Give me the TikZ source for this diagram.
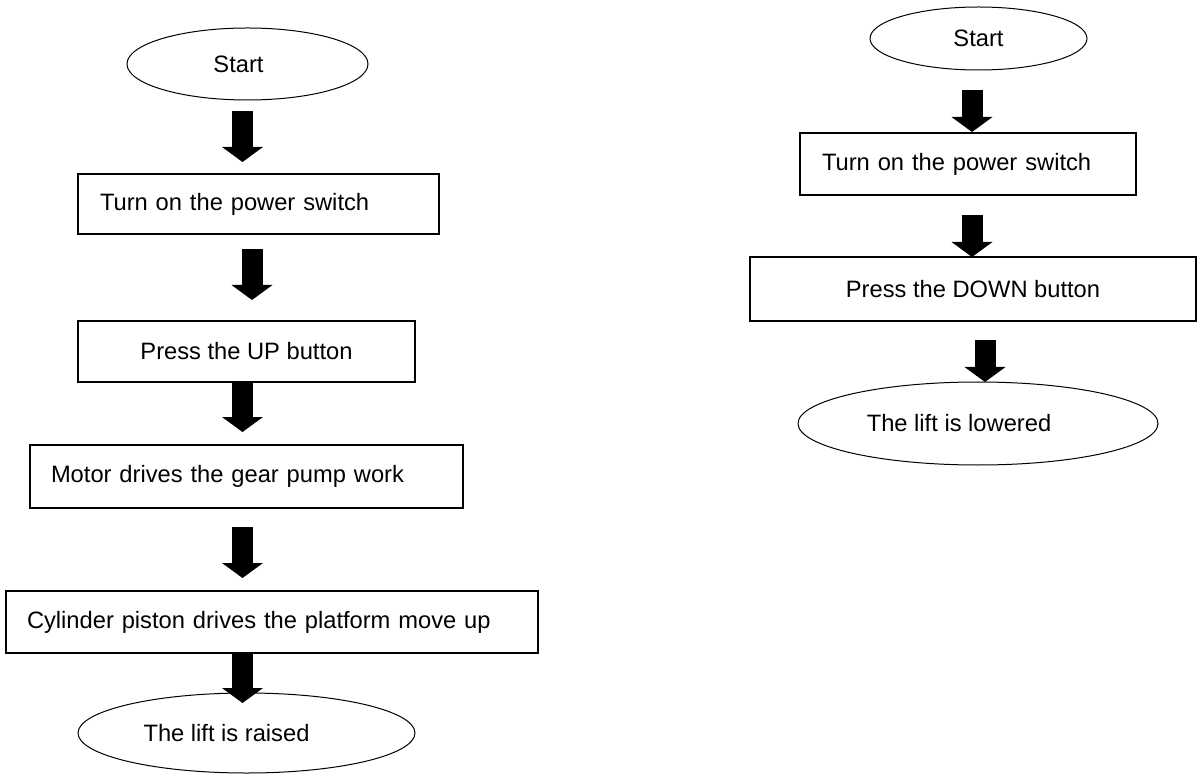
\documentclass[tikz,border=0pt]{standalone}
\usepackage{fontspec}
\setmainfont{Liberation Sans}
\usetikzlibrary{shapes.geometric,arrows.meta}
\begin{document}
\begin{tikzpicture}[x=0.5pt,y=-0.5pt,
  every node/.style={font=\fontsize{11.85}{14}\selectfont},
  startend/.style={ellipse,draw,line width=0.5pt,inner sep=0pt},
  stepbox/.style={rectangle,draw,line width=0.75pt,inner ysep=0pt},
  lbox/.style={stepbox,align=left},
  bigarrow/.style={line width=10.5pt,-{Triangle[length=7.5pt,width=20.5pt,line width=0pt]}}]
\useasboundingbox (0,0) rectangle (1197,774);
% ---- left flow ----
\node[startend,minimum width=120.5pt,minimum height=36pt] (s1) at (247.5,64) {Start\hspace*{9pt}};
\node[lbox,minimum height=30pt,inner xsep=11pt,text width=158.5pt] (b1) at (258.5,204) {Turn on the power switch};
\node[stepbox,minimum width=168.5pt,minimum height=30.5pt] (b2) at (246.5,351.5) {Press the UP button};
\node[lbox,minimum height=31.5pt,inner xsep=10.5pt,text width=195.5pt] (b3) at (246.5,476.5) {Motor drives the gear pump work};
\node[lbox,minimum height=31pt,inner xsep=10.5pt,text width=245pt] (b4) at (272,622) {Cylinder piston drives the platform move up};
\node[startend,minimum width=168.5pt,minimum height=40pt] (e1) at (246.5,733) {The lift is raised\hspace*{20pt}};
\coordinate (a1s) at (242.5,111); \coordinate (a1e) at (242.5,162);
\coordinate (a2s) at (252,249);   \coordinate (a2e) at (252,300);
\coordinate (a3s) at (242.5,382); \coordinate (a3e) at (242.5,432);
\coordinate (a4s) at (242.5,527); \coordinate (a4e) at (242.5,578);
\coordinate (a5s) at (242.5,653); \coordinate (a5e) at (242.5,703);
\draw[bigarrow] (a1s) -- (a1e);
\draw[bigarrow] (a2s) -- (a2e);
\draw[bigarrow] (a3s) -- (a3e);
\draw[bigarrow] (a4s) -- (a4e);
\draw[bigarrow] (a5s) -- (a5e);
% ---- right flow ----
\node[startend,minimum width=108.5pt,minimum height=31.5pt] (rs) at (978.5,38.5) {Start};
\node[lbox,minimum height=31pt,inner xsep=11pt,text width=146pt] (rb1) at (968,164) {Turn on the power switch};
\node[stepbox,minimum width=223pt,minimum height=32pt] (rb2) at (973,289) {Press the DOWN button};
\node[startend,minimum width=180pt,minimum height=41.5pt] (re) at (978,423.5) {The lift is lowered\hspace*{19pt}};
\coordinate (r1s) at (972,90);  \coordinate (r1e) at (972,132);
\coordinate (r2s) at (972,215); \coordinate (r2e) at (972,257);
\coordinate (r3s) at (985,340); \coordinate (r3e) at (985,382);
\draw[bigarrow] (r1s) -- (r1e);
\draw[bigarrow] (r2s) -- (r2e);
\draw[bigarrow] (r3s) -- (r3e);
\end{tikzpicture}
\end{document}
